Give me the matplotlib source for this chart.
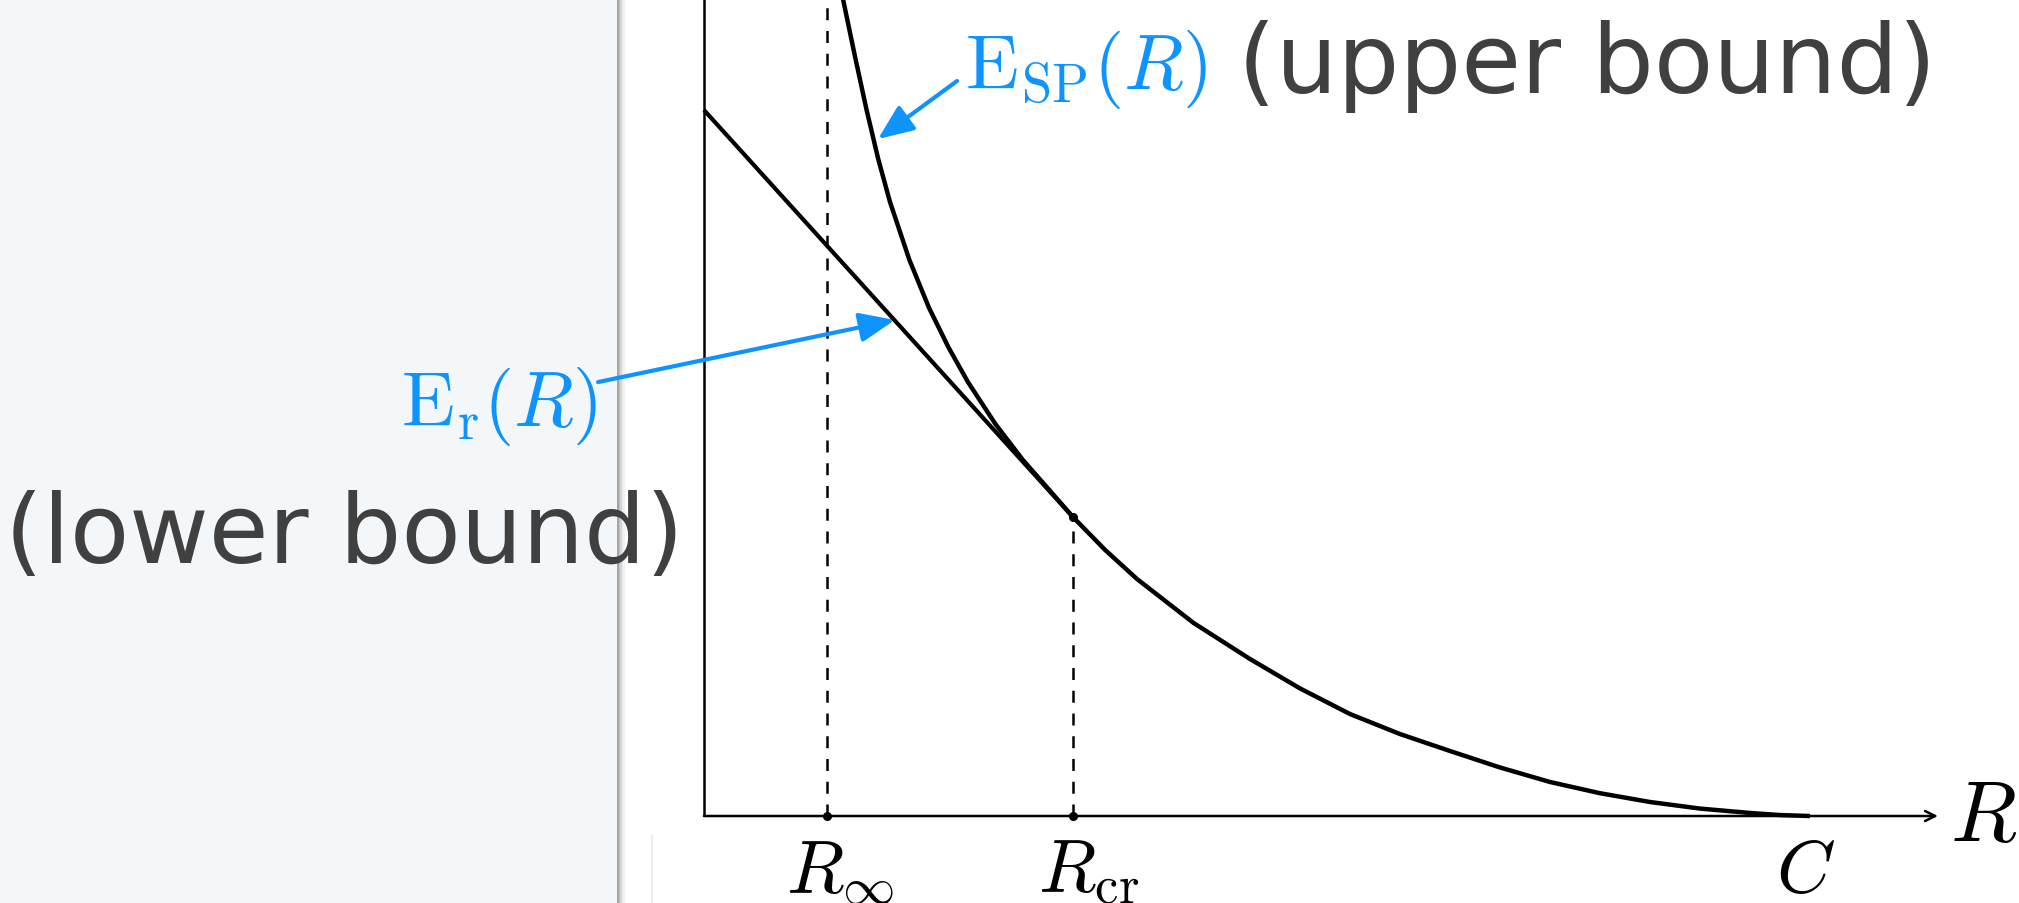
import numpy as np
import matplotlib.pyplot as plt
from matplotlib.patches import Rectangle

plt.rcParams['mathtext.fontset'] = 'cm'

# Rate in units of capacity (C = 1), exponent values along the sphere-packing bound
sp_rate = [0.1257, 0.1363, 0.1469, 0.1576, 0.1682, 0.1858, 0.2034, 0.2211,
           0.2387, 0.2636, 0.2884, 0.3110, 0.3336, 0.3626, 0.3915, 0.4426,
           0.4937, 0.5389, 0.5841, 0.6293, 0.6745, 0.7197, 0.7649, 0.8101,
           0.8553, 0.9005, 0.9458, 0.9729, 1.0]
sp_exp = [0.6697, 0.6236, 0.5793, 0.5384, 0.5033, 0.4557, 0.4167, 0.3841,
          0.3557, 0.3212, 0.2918, 0.2685, 0.2451, 0.2182, 0.1943, 0.1583,
          0.1287, 0.1046, 0.0836, 0.0672, 0.0533, 0.0398, 0.0279, 0.0187,
          0.0115, 0.0061, 0.0025, 0.0008, 0.0]

# Straight-line part of the random coding exponent (slope -1 up to R_cr)
er_rate = [0.0, 0.3336]
er_exp = [0.5787, 0.2451]

R_inf = 0.111
R_cr = 0.3336
C = 1.0
E_cr = 0.2451

tick_names = [r'$R_\infty$', r'$R_{\mathrm{cr}}$', r'$C$']

blue = '#0f93ff'
gray = '#404040'

fig = plt.figure(figsize=(20.19, 9.04), dpi=100)
ax = fig.add_axes([0, 0, 1, 1])
ax.set_xlim(-0.6365, 1.189)
ax.set_ylim(-0.0713, 0.6697)
ax.axis('off')

# side panel with its shadow edge
ax.add_patch(Rectangle((0, 0), 617 / 2019, 1, transform=fig.transFigure,
                       facecolor='#f3f7fa', edgecolor='none', zorder=0))
for i, a in enumerate([0.35, 0.25, 0.16, 0.09, 0.05, 0.02]):
    ax.add_patch(Rectangle(((617 + i * 1.5) / 2019, 0), 1.5 / 2019, 1,
                           transform=fig.transFigure, facecolor='k', alpha=a,
                           edgecolor='none', zorder=0))
ax.add_patch(Rectangle((651 / 2019, 0), 1.5 / 2019, 1 - 836 / 904,
                       transform=fig.transFigure, facecolor='#ededed',
                       edgecolor='none', zorder=0))

# axes
ax.plot([0, 0], [0, 0.68], color='k', lw=1.8, solid_capstyle='butt')
ax.annotate('', xy=(1.1157, 0), xytext=(0, 0),
            arrowprops=dict(arrowstyle='->', lw=1.8, color='k',
                            mutation_scale=18, shrinkA=0, shrinkB=0))

# guide lines
ax.plot([R_inf, R_inf], [0, 0.68], color='k', lw=1.8, ls=(0, (4.8, 4.3)))
ax.plot([R_cr, R_cr], [0, E_cr], color='k', lw=1.8, ls=(0, (4.8, 4.3)))

# exponents
ax.plot(sp_rate, sp_exp, color='k', lw=3.2, solid_capstyle='butt',
        solid_joinstyle='round')
ax.plot(er_rate, er_exp, color='k', lw=3.0, solid_capstyle='butt')

ax.plot([R_inf, R_cr, R_cr], [0, 0, E_cr], 'o', color='k', ms=5.5)

# tick labels under the rate axis
for x, name, dx in zip([R_inf, R_cr, C], tick_names, [10, 11, -3]):
    ax.annotate(name, xy=(x, 0), xytext=(dx, -54), textcoords='offset points',
                ha='center', va='baseline', fontsize=54)
ax.annotate(r'$R$', xy=(1.1157, 0), xytext=(9, 0), textcoords='offset points',
            ha='left', va='center', fontsize=62)

# labelled arrows
ax.annotate('', xy=(0.1573, 0.5549), xytext=(0.2288, 0.6025),
            arrowprops=dict(arrowstyle='-|>,head_length=1.2,head_width=0.5',
                            lw=3, color=blue, mutation_scale=18,
                            shrinkA=0, shrinkB=0))
ax.annotate('', xy=(0.1727, 0.4066), xytext=(-0.0958, 0.3557),
            arrowprops=dict(arrowstyle='-|>,head_length=1.2,head_width=0.5',
                            lw=3, color=blue, mutation_scale=18,
                            shrinkA=0, shrinkB=0))

fig.text(965 / 2019, 1 - 89 / 904, r'$\mathrm{E}_{\mathrm{SP}}(R)$',
         color=blue, fontsize=56, ha='left', va='baseline')
fig.text(597 / 2019, 1 - 426 / 904, r'$\mathrm{E}_{\mathrm{r}}(R)$',
         color=blue, fontsize=56, ha='right', va='baseline')

fig.text(1238 / 2019, 1 - 93 / 904, '(upper bound)', color=gray,
         fontsize=70, ha='left', va='baseline')
fig.text(5 / 2019, 1 - 563 / 904, '(lower bound)', color=gray,
         fontsize=70, ha='left', va='baseline')

fig.savefig('out.png', dpi=100)
